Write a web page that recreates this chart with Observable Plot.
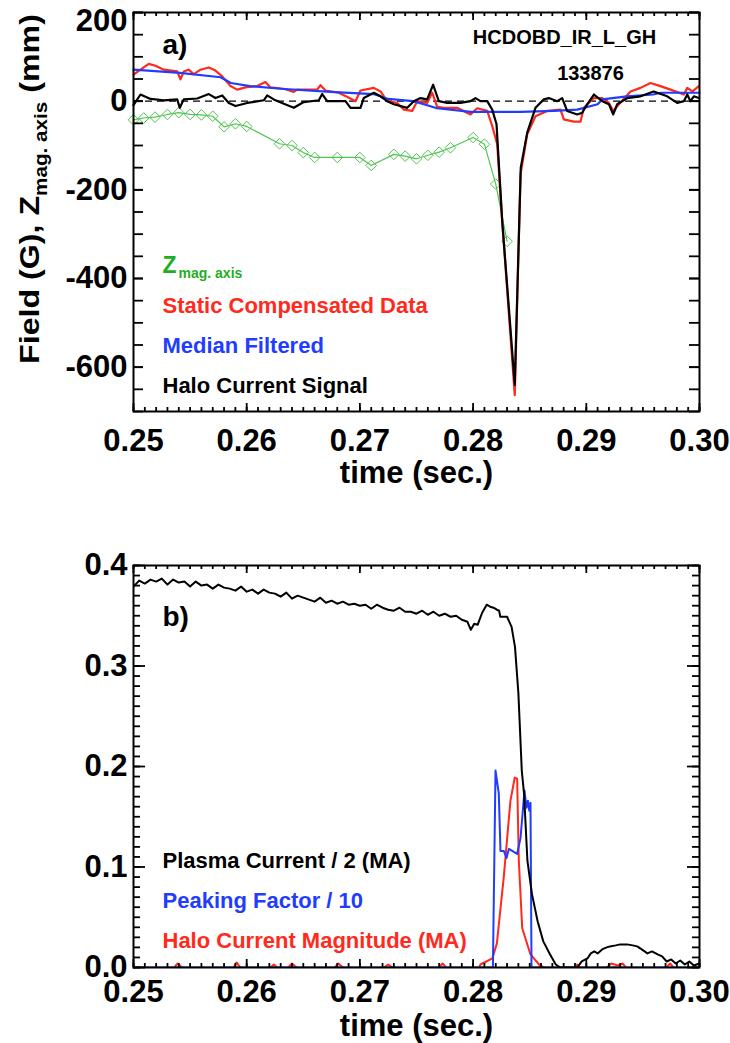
<!DOCTYPE html>
<html><head><meta charset="utf-8">
<script src="https://cdn.jsdelivr.net/npm/d3@7"></script>
<script src="https://cdn.jsdelivr.net/npm/@observablehq/plot@0.6"></script>
<style>body{margin:0;background:#fff} svg{display:block}</style>
</head><body><div id="chart"></div>
<script>
// ---------- Panel a) data ----------
const haloT = [0.25000,0.25062,0.25150,0.25268,0.25386,0.25409,0.25444,0.25563,0.25665,0.25724,0.25784,0.25842,0.25901,0.26004,0.26151,0.26181,0.26239,0.26328,0.26416,0.26504,0.26637,0.26667,0.26711,0.26873,0.26917,0.27005,0.27034,0.27123,0.27182,0.27241,0.27300,0.27418,0.27476,0.27535,0.27594,0.27647,0.27697,0.27771,0.27889,0.27977,0.28021,0.28065,0.28125,0.28169,0.28207,0.28257,0.28368,0.28421,0.28478,0.28551,0.28625,0.28669,0.28743,0.28787,0.28831,0.28920,0.28964,0.29008,0.29067,0.29141,0.29200,0.29238,0.29273,0.29362,0.29479,0.29596,0.29715,0.29803,0.29862,0.29892,0.29920,0.29950,0.29994];
const haloV = [-9,15,5,2,4,-15,4,6,16,7,13,-4,-11,-4,2,13,4,-6,-15,-2,2,16,0,0,-15,-15,7,19,11,0,-7,-15,0,7,4,37,0,-4,-4,0,7,0,0,-19,-52,-270,-640,-150,-71,-15,4,7,0,7,-22,-30,-26,-7,15,0,-7,-30,-7,7,11,22,11,-4,0,15,0,11,7];

const staticT = [0.25000,0.25062,0.25135,0.25194,0.25268,0.25386,0.25415,0.25444,0.25486,0.25533,0.25592,0.25665,0.25724,0.25784,0.25857,0.25916,0.25989,0.26093,0.26166,0.26210,0.26328,0.26416,0.26445,0.26622,0.26652,0.26696,0.26813,0.26917,0.26961,0.27005,0.27123,0.27182,0.27241,0.27329,0.27388,0.27462,0.27506,0.27594,0.27639,0.27683,0.27741,0.27859,0.27977,0.28036,0.28125,0.28169,0.28213,0.28257,0.28368,0.28410,0.28419,0.28478,0.28551,0.28654,0.28772,0.28801,0.28890,0.28949,0.28978,0.29067,0.29141,0.29200,0.29238,0.29288,0.29391,0.29479,0.29567,0.29655,0.29744,0.29862,0.29892,0.29939,0.29994];
const staticV = [60,71,84,80,71,67,49,67,71,61,71,76,69,56,34,26,31,34,43,31,28,21,26,26,36,24,19,6,0,24,30,22,0,-4,-19,-22,0,-4,19,-13,-15,-15,-30,-16,-22,-56,-97,-270,-663,-250,-165,-75,-34,-22,-19,-41,-46,-46,-15,7,7,-4,-22,-7,22,30,41,34,26,15,30,22,34];

const medianT = [0.2500,0.2541,0.2577,0.2586,0.2603,0.2630,0.2674,0.2712,0.2725,0.2747,0.2758,0.2768,0.2798,0.2842,0.2871,0.2892,0.2910,0.2914,0.2936,0.2959,0.2966,0.3000];
const medianV = [71,64,54,41,34,28,21,16,5,0,-8,-16,-24,-24,-22,-19,-7,4,11,15,19,19];

const zAxisT = [0.2500,0.2509,0.2519,0.2530,0.2540,0.2550,0.2560,0.2570,0.2580,0.2590,0.2600,0.2629,0.2640,0.2650,0.2660,0.2680,0.2700,0.2710,0.2730,0.2740,0.2750,0.2760,0.2770,0.2780,0.2800,0.2810,0.2820,0.2830];
const zAxisV = [-42,-38,-36,-30,-26,-30,-31,-34,-58,-51,-57,-96,-100,-116,-127,-127,-127,-145,-120,-124,-130,-122,-115,-105,-82,-97,-187,-316];

// ---------- Panel b) data ----------
const ipT = [0.2500,0.2505,0.2510,0.2515,0.2520,0.2525,0.2530,0.2535,0.2540,0.2545,0.2550,0.2555,0.2560,0.2565,0.2570,0.2575,0.2580,0.2585,0.2590,0.2595,0.2600,0.2605,0.2610,0.2615,0.2620,0.2625,0.2630,0.2635,0.2640,0.2645,0.2650,0.2655,0.2660,0.2665,0.2670,0.2675,0.2680,0.2685,0.2690,0.2695,0.2700,0.2705,0.2710,0.2715,0.2720,0.2725,0.2730,0.2735,0.2740,0.2745,0.2750,0.2755,0.2760,0.2765,0.2770,0.2775,0.2780,0.2785,0.2790,0.2795,0.2798,0.2801,0.2804,0.2808,0.2812,0.2815,0.2818,0.2821,0.2823,0.2824,0.2830,0.2834,0.2837,0.2840,0.2843,0.2845,0.2848,0.2852,0.2857,0.2862,0.2868,0.2873,0.2877,0.2892,0.2896,0.2901,0.2904,0.2907,0.2910,0.2914,0.2918,0.2921,0.2926,0.2930,0.2936,0.2941,0.2945,0.2949,0.2954,0.2958,0.2963,0.2967,0.2971,0.2975,0.2979,0.2983,0.2987,0.2991,0.2995,0.3000];
const ipV = [0.379,0.385,0.382,0.386,0.384,0.387,0.381,0.386,0.383,0.384,0.379,0.384,0.380,0.381,0.377,0.381,0.378,0.377,0.375,0.379,0.374,0.376,0.372,0.376,0.373,0.372,0.369,0.373,0.367,0.370,0.368,0.366,0.364,0.368,0.363,0.365,0.362,0.364,0.361,0.362,0.360,0.361,0.357,0.361,0.358,0.356,0.355,0.358,0.354,0.354,0.352,0.355,0.351,0.354,0.350,0.352,0.349,0.350,0.346,0.344,0.336,0.342,0.341,0.353,0.361,0.359,0.358,0.356,0.355,0.349,0.349,0.339,0.319,0.273,0.196,0.173,0.106,0.073,0.046,0.026,0.013,0.003,0.000,0.000,0.006,0.009,0.014,0.016,0.014,0.018,0.020,0.021,0.022,0.023,0.023,0.022,0.021,0.018,0.014,0.016,0.013,0.011,0.006,0.008,0.004,0.007,0.003,0.006,0.002,0.004];

const pfT = [0.2500,0.28175,0.28198,0.28227,0.28242,0.28271,0.28295,0.28316,0.28389,0.28419,0.28454,0.28472,0.28484,0.28496,0.28507,0.28516,0.3000];
const pfV = [0,0,0.196,0.173,0.116,0.116,0.109,0.118,0.113,0.129,0.176,0.159,0.166,0.156,0.164,0,0];

const hcT = [0.2500,0.2535,0.2539,0.2544,0.2588,0.2591,0.2595,0.2620,0.2624,0.2628,0.2636,0.2640,0.2645,0.2677,0.2681,0.2686,0.2720,0.2725,0.2730,0.2769,0.2773,0.2777,0.2805,0.28065,0.2817,0.2821,0.2827,0.2833,0.28368,0.28389,0.28404,0.28434,0.28507,0.2859,0.2865,0.2889,0.2892,0.2895,0.2917,0.2922,0.2928,0.2932,0.2936,0.2970,0.2974,0.2978,0.3000];
const hcV = [-0.002,-0.001,0.004,-0.001,-0.001,0.005,-0.001,-0.001,0.003,-0.001,-0.001,0.004,-0.001,-0.001,0.004,-0.001,-0.001,0.003,-0.001,-0.001,0.004,-0.001,-0.001,0.003,0.009,0.024,0.089,0.166,0.189,0.188,0.106,0.039,0.013,0.002,-0.001,-0.001,0.003,-0.001,-0.001,0.004,0.002,0.004,-0.001,-0.001,0.004,-0.001,-0.001];

// ---------- axis ticks / labels ----------
const xMajorTicks = [0.25,0.26,0.27,0.28,0.29,0.30];
const xMinorTicks = d3.range(0,51).map(i => 0.25 + i*0.001);
const yTicksA = [200,0,-200,-400,-600];
const yMinorA = d3.range(-700,201,50);
const yTicksB = [0,0.1,0.2,0.3,0.4];
const yMinorB = d3.range(0,41).map(i => i*0.01);

const legendA = ["Static Compensated Data","Median Filtered","Halo Current Signal"];
const legendB = ["Plasma Current / 2 (MA)","Peaking Factor / 10","Halo Current Magnitude (MA)"];

// ---------- styling ----------
const FONT = "'Liberation Sans', Arial, Helvetica, sans-serif";
const RED = "#ff2a1c", BLUE = "#1f3cff", GREEN_LINE = "#52c452", GREEN_TXT = "#1fae1f";
const W = 730, ML = 133, MR = 31;

const rows = (T, V) => T.map((t, i) => ({t, v: V[i]}));
const txt = (s, opt) => Plot.text([s], {text: d => d, frameAnchor: "top-left", textAnchor: "start", lineAnchor: "bottom", fontWeight: "bold", ...opt});

// inward ticks on all four sides (IDL style)
function frameTicks(plotW, plotH, xMaj, xMin, yMaj, yMin, lx, lxm, ly, lym) {
  const o = {stroke: "black", strokeWidth: 1.8};
  return [
    Plot.tickX(xMin, {...o, insetTop: plotH - lxm}),
    Plot.tickX(xMin, {...o, insetBottom: plotH - lxm}),
    Plot.tickX(xMaj, {...o, insetTop: plotH - lx}),
    Plot.tickX(xMaj, {...o, insetBottom: plotH - lx}),
    Plot.tickY(yMin, {...o, insetRight: plotW - lym}),
    Plot.tickY(yMin, {...o, insetLeft: plotW - lym}),
    Plot.tickY(yMaj, {...o, insetRight: plotW - ly}),
    Plot.tickY(yMaj, {...o, insetLeft: plotW - ly})
  ];
}

// ---------- panel a ----------
const HA = 510, MTA = 12, MBA = 99;
const plotA = Plot.plot({
  width: W, height: HA, marginLeft: ML, marginRight: MR, marginTop: MTA, marginBottom: MBA,
  x: {domain: [0.25, 0.30]},
  y: {domain: [-700, 200]},
  style: {fontFamily: FONT, fontWeight: "bold", color: "black", background: "white", overflow: "visible"},
  marks: [
    Plot.ruleY([0], {strokeDasharray: "7,5", strokeWidth: 1.3}),
    Plot.line(rows(zAxisT, zAxisV), {x: "t", y: "v", stroke: GREEN_LINE, strokeWidth: 1.2}),
    Plot.dot(rows(zAxisT, zAxisV), {x: "t", y: "v", symbol: "diamond2", r: 4.8, stroke: GREEN_LINE, strokeWidth: 1}),
    Plot.line(rows(staticT, staticV), {x: "t", y: "v", stroke: RED, strokeWidth: 2.2}),
    Plot.line(rows(medianT, medianV), {x: "t", y: "v", stroke: BLUE, strokeWidth: 2.2}),
    Plot.line(rows(haloT, haloV), {x: "t", y: "v", stroke: "black", strokeWidth: 2.2}),
    ...frameTicks(W - ML - MR, HA - MTA - MBA, xMajorTicks, xMinorTicks, yTicksA, yMinorA, 8, 4, 10, 10),
    Plot.frame({stroke: "black", strokeWidth: 2}),
    Plot.axisX({ticks: xMajorTicks, tickSize: 0, tickPadding: 17, fontSize: 31, fontWeight: "bold", tickFormat: d => d.toFixed(2), label: null}),
    Plot.axisY({ticks: yTicksA.slice(1), tickSize: 0, tickPadding: 6, fontSize: 31, fontWeight: "bold", tickFormat: d => String(d), label: null}),
    Plot.axisY({ticks: yTicksA.slice(0, 1), tickSize: 0, tickPadding: 6, dy: 9, fontSize: 31, fontWeight: "bold", tickFormat: d => String(d), label: null}),
    Plot.text(["time (sec.)"], {text: d => d, frameAnchor: "bottom", dy: 71, lineAnchor: "bottom", fontSize: 31, fontWeight: "bold"}),
    txt("a)", {dx: 29, dy: 41, fontSize: 28}),
    txt("HCDOBD_IR_L_GH", {dx: 431, dy: 31, fontSize: 20, textAnchor: "middle"}),
    txt("133876", {dx: 457, dy: 67, fontSize: 20, textAnchor: "middle"}),
    txt("Z", {dx: 29, dy: 260, fontSize: 23, fill: GREEN_TXT}),
    txt("mag. axis", {dx: 45, dy: 265, fontSize: 14, fill: GREEN_TXT}),
    txt(legendA[0], {dx: 29, dy: 300, fontSize: 22, fill: RED}),
    txt(legendA[1], {dx: 29, dy: 340, fontSize: 22, fill: BLUE}),
    txt(legendA[2], {dx: 29, dy: 380, fontSize: 22, fill: "black"})
  ]
});

// rotated y label with subscript
{
  const lab = d3.select(plotA).append("text")
    .attr("transform", "translate(39,189) rotate(-90) scale(1.15,1)")
    .attr("text-anchor", "middle")
    .attr("font-size", 28).attr("font-weight", "bold").attr("font-family", FONT)
    .attr("fill", "black").style("white-space", "pre");
  lab.append("tspan").text("Field (G), Z");
  lab.append("tspan").attr("font-size", 18).attr("dy", 8).text("mag. axis");
  lab.append("tspan").attr("font-size", 28).attr("dy", -8).text(" (mm)");
}

// ---------- panel b ----------
const HB = 533, MTB = 55, MBB = 76;
const plotB = Plot.plot({
  width: W, height: HB, marginLeft: ML, marginRight: MR, marginTop: MTB, marginBottom: MBB,
  x: {domain: [0.25, 0.30]},
  y: {domain: [0, 0.4]},
  style: {fontFamily: FONT, fontWeight: "bold", color: "black", background: "white", overflow: "visible"},
  marks: [
    Plot.line(rows(hcT, hcV), {x: "t", y: "v", stroke: RED, strokeWidth: 2, clip: true}),
    Plot.line(rows(pfT, pfV), {x: "t", y: "v", stroke: BLUE, strokeWidth: 2, clip: true}),
    Plot.line(rows(ipT, ipV), {x: "t", y: "v", stroke: "black", strokeWidth: 2, clip: true}),
    ...frameTicks(W - ML - MR, HB - MTB - MBB, xMajorTicks, xMinorTicks, yTicksB, yMinorB, 8, 4, 12, 7),
    Plot.frame({stroke: "black", strokeWidth: 2}),
    Plot.axisX({ticks: xMajorTicks, tickSize: 0, tickPadding: 12, fontSize: 31, fontWeight: "bold", tickFormat: d => d.toFixed(2), label: null}),
    Plot.axisY({ticks: yTicksB, tickSize: 0, tickPadding: 6, fontSize: 31, fontWeight: "bold", tickFormat: d => d.toFixed(1), label: null}),
    Plot.text(["time (sec.)"], {text: d => d, frameAnchor: "bottom", dy: 68, lineAnchor: "bottom", fontSize: 31, fontWeight: "bold"}),
    txt("b)", {dx: 29, dy: 60, fontSize: 28}),
    txt(legendB[0], {dx: 29, dy: 302, fontSize: 22, fill: "black"}),
    txt(legendB[1], {dx: 29, dy: 342, fontSize: 22, fill: BLUE}),
    txt(legendB[2], {dx: 29, dy: 382, fontSize: 22, fill: RED})
  ]
});

const root = document.getElementById("chart");
root.appendChild(plotA);
root.appendChild(plotB);
</script></body></html>
